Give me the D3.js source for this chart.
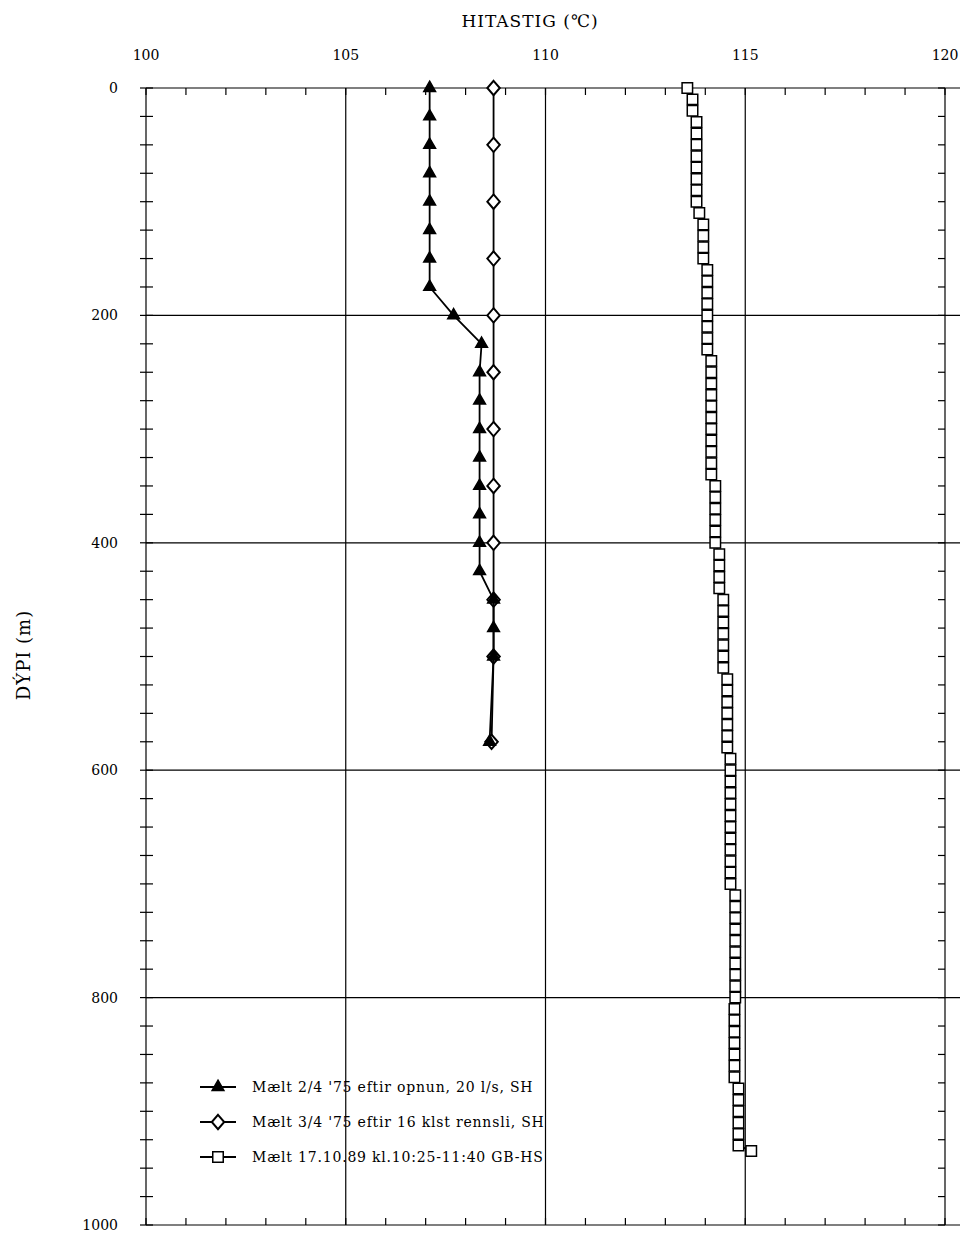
<!DOCTYPE html>
<html><head><meta charset="utf-8">
<script src="https://cdn.jsdelivr.net/npm/d3@7"></script>
<style>body{margin:0;background:#fff}svg text{font-family:"DejaVu Serif","Liberation Serif",serif;fill:#000}</style>
</head><body><svg id="c" width="960" height="1240"></svg>
<script>
const xTicks=[100,105,110,115,120];
const yTicks=[0,200,400,600,800,1000];
const s1Depth=[0,25,50,75,100,125,150,175,200,225,250,275,300,325,350,375,400,425,450,475,500,575];
const s1Temp=[107.1,107.1,107.1,107.1,107.1,107.1,107.1,107.1,107.7,108.4,108.35,108.35,108.35,108.35,108.35,108.35,108.35,108.35,108.7,108.7,108.7,108.6];
const s2Depth=[0,50,100,150,200,250,300,350,400,450,500,575];
const s2Temp=[108.7,108.7,108.7,108.7,108.7,108.7,108.7,108.7,108.7,108.7,108.7,108.65];
const s3Depth=[0,10,20,30,40,50,60,70,80,90,100,110,120,130,140,150,160,170,180,190,200,210,220,230,240,250,260,270,280,290,300,310,320,330,340,350,360,370,380,390,400,410,420,430,440,450,460,470,480,490,500,510,520,530,540,550,560,570,580,590,600,610,620,630,640,650,660,670,680,690,700,710,720,730,740,750,760,770,780,790,800,810,820,830,840,850,860,870,880,890,900,910,920,930,935];
const s3Temp=[113.55,113.68,113.68,113.78,113.78,113.78,113.78,113.78,113.78,113.78,113.78,113.85,113.95,113.95,113.95,113.95,114.05,114.05,114.05,114.05,114.05,114.05,114.05,114.05,114.15,114.15,114.15,114.15,114.15,114.15,114.15,114.15,114.15,114.15,114.15,114.25,114.25,114.25,114.25,114.25,114.25,114.35,114.35,114.35,114.35,114.45,114.45,114.45,114.45,114.45,114.45,114.45,114.55,114.55,114.55,114.55,114.55,114.55,114.55,114.63,114.63,114.63,114.63,114.63,114.63,114.63,114.63,114.63,114.63,114.63,114.63,114.75,114.75,114.75,114.75,114.75,114.75,114.75,114.75,114.75,114.75,114.73,114.73,114.73,114.73,114.73,114.73,114.73,114.83,114.83,114.83,114.83,114.83,114.83,115.15];
const legendLabels=["Mælt 2/4 '75 eftir opnun, 20 l/s, SH","Mælt 3/4 '75 eftir 16 klst rennsli, SH","Mælt 17.10.89 kl.10:25-11:40 GB-HS"];

const svg=d3.select("#c");
const x=d3.scaleLinear().domain([100,120]).range([146,945]);
const y=d3.scaleLinear().domain([0,1000]).range([88,1225]);
const g=svg.append("g").attr("stroke","#000").attr("stroke-width",1.2);
xTicks.forEach(t=>g.append("line").attr("x1",x(t)).attr("x2",x(t)).attr("y1",y(0)).attr("y2",y(1000)));
yTicks.forEach(t=>g.append("line").attr("x1",x(100)).attr("x2",960).attr("y1",y(t)).attr("y2",y(t)));
d3.range(100,121,1).forEach(t=>{
  g.append("line").attr("x1",x(t)).attr("x2",x(t)).attr("y1",y(0)).attr("y2",y(0)+7);
  g.append("line").attr("x1",x(t)).attr("x2",x(t)).attr("y1",y(1000)).attr("y2",y(1000)-7);
});
d3.range(0,1001,25).forEach(t=>{
  g.append("line").attr("x1",x(100)).attr("x2",x(100)+7).attr("y1",y(t)).attr("y2",y(t));
  g.append("line").attr("x1",x(120)).attr("x2",x(120)-7).attr("y1",y(t)).attr("y2",y(t));
  g.append("line").attr("x1",x(100)).attr("x2",x(100)-6).attr("y1",y(t)).attr("y2",y(t));
});
xTicks.forEach(t=>svg.append("text").attr("x",x(t)).attr("y",60).attr("text-anchor","middle").attr("font-size",14).text(t));
yTicks.forEach(t=>svg.append("text").attr("x",118).attr("y",y(t)+5).attr("text-anchor","end").attr("font-size",14).text(t));
svg.append("text").attr("x",530).attr("y",27).attr("text-anchor","middle").attr("font-size",17).attr("letter-spacing",1).text("HITASTIG (℃)");
svg.append("text").attr("transform","translate(30,655) rotate(-90)").attr("text-anchor","middle").attr("font-size",18).attr("letter-spacing",1).text("DÝPI (m)");

const line=d3.line().x(d=>x(d[1])).y(d=>y(d[0]));
function marker(sel,sym,size,fill,sx){
  sel.attr("d",d3.symbol().type(sym).size(size)).attr("fill",fill).attr("stroke","#000").attr("stroke-width",1.5);
}
const syms=[[d3.symbolTriangle,60,"#000",1],[d3.symbolDiamond,60,"#fff",1.5],[d3.symbolSquare,110,"#fff",1]];
function series(dep,tmp,k){
  const pts=dep.map((d,i)=>[d,tmp[i]]);
  svg.append("path").attr("d",line(pts)).attr("fill","none").attr("stroke","#000").attr("stroke-width",1.8);
  const s=syms[k];
  svg.selectAll(null).data(pts).enter().append("path")
    .call(marker,s[0],s[1],s[2]).attr("transform",d=>`translate(${x(d[1])},${y(d[0])}) scale(${s[3]},1)`);
}
series(s2Depth,s2Temp,1);
series(s1Depth,s1Temp,0);
series(s3Depth,s3Temp,2);
legendLabels.forEach((l,i)=>{
  const yy=1087+i*35;
  svg.append("line").attr("x1",200).attr("x2",236).attr("y1",yy).attr("y2",yy).attr("stroke","#000").attr("stroke-width",1.8);
  svg.append("path").call(marker,syms[i][0],syms[i][1],syms[i][2]).attr("transform",`translate(218,${yy}) scale(${syms[i][3]},1)`);
  svg.append("text").attr("x",252).attr("y",yy+5).attr("font-size",14).attr("letter-spacing",0.8).text(l);
});
</script></body></html>
